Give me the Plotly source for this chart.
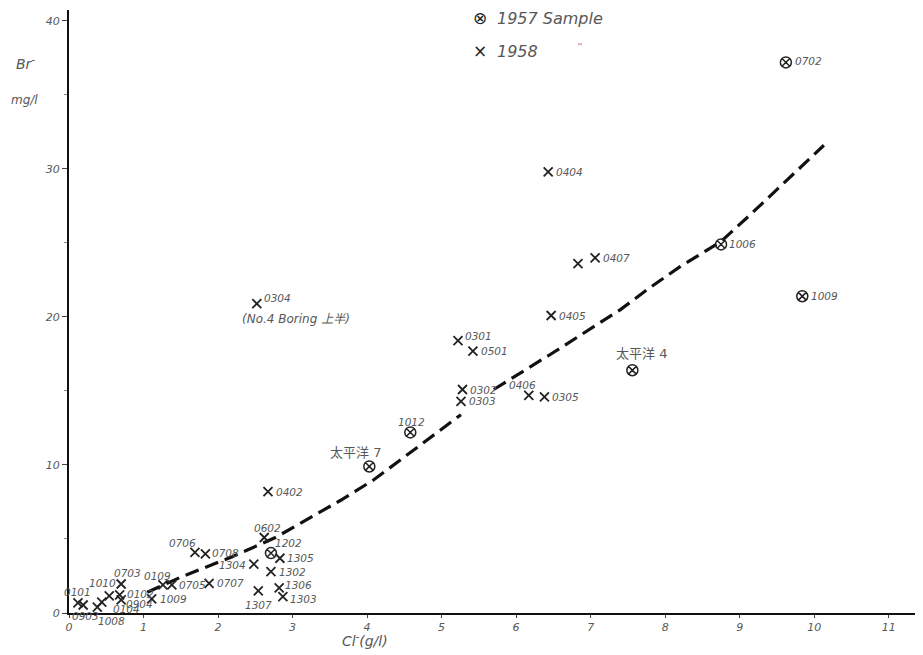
import plotly.graph_objects as go

# ---------------- data ----------------
labels57 = ["0702", "1006", "1009", "太平洋 4", "1012", "太平洋 7", "1202"]
cl57 = [9.62, 8.75, 9.84, 7.56, 4.58, 4.03, 2.71]
br57 = [37.2, 24.9, 21.4, 16.4, 12.2, 9.9, 4.05]

labels58 = ["0404", "0407", "", "0405", "0304", "0301", "0501", "0302", "0303",
            "0406", "0305", "0402", "0602", "1305", "1304", "1302", "1306", "1303",
            "1307", "0706", "0708", "0707", "0109", "0705", "1009", "0703", "0102",
            "0904", "1010", "0101", "0903", "0104", "1008"]
cl58 = [6.43, 7.06, 6.83, 6.47, 2.52, 5.22, 5.42, 5.28, 5.26,
        6.17, 6.38, 2.67, 2.62, 2.83, 2.48, 2.71, 2.82, 2.87,
        2.54, 1.69, 1.83, 1.88, 1.26, 1.38, 1.11, 0.70, 0.68,
        0.70, 0.54, 0.12, 0.19, 0.44, 0.38]
br58 = [29.8, 24.0, 23.6, 20.1, 20.9, 18.4, 17.7, 15.1, 14.3,
        14.7, 14.6, 8.2, 5.1, 3.7, 3.3, 2.8, 1.7, 1.1,
        1.5, 4.1, 4.0, 2.0, 1.9, 1.9, 0.95, 1.96, 1.22,
        0.88, 1.15, 0.68, 0.54, 0.74, 0.40]

# dashed trend curve (two drawn segments, broken near 0302)
curve_cl = [1.05, 1.49, 2.19, 2.77, 3.64, 4.09, 5.26, None,
            5.70, 6.50, 7.40, 7.80, 8.20, 8.75, 9.14, 10.13]
curve_br = [1.4, 2.4, 3.8, 5.1, 7.6, 9.0, 13.4, None,
            15.1, 17.6, 20.5, 22.0, 23.4, 25.1, 26.9, 31.6]

x_ticks = list(range(0, 12))
y_ticks = [0, 10, 20, 30, 40]

# ---------------- label styles: (x shift px, y shift px, anchor) ----------------
off57 = [(7, 1, "left"), (6, 0, "left"), (7, 0, "left"), (9, 17, "center"),
         (1, 10, "center"), (-14, 14, "center"), (2, 10, "left")]
off58 = [(6, 0, "left"), (6, 0, "left"), (0, 0, "left"), (6, 0, "left"), (5, 6, "left"),
         (5, 5, "left"), (6, 0, "left"), (6, 0, "left"), (6, 0, "left"),
         (-6, 10, "center"), (6, 0, "left"), (6, 0, "left"), (3, 10, "center"), (5, 0, "left"),
         (-6, -1, "right"), (6, 0, "left"), (4, 3, "left"), (5, -2, "left"),
         (0, -14, "center"), (-12, 9, "center"), (5, 1, "left"), (6, 0, "left"), (-5, 9, "center"),
         (5, 0, "left"), (6, 0, "left"), (6, 11, "center"), (5, 1, "left"),
         (3, -4, "left"), (-7, 13, "center"), (0, 11, "center"), (2, -11, "center"), (9, -7, "left"),
         (14, -14, "center")]

FONT = "DejaVu Sans, Noto Sans CJK JP, sans-serif"
INK = "#222222"
TXT = "#585858"

fig = go.Figure()

fig.add_trace(go.Scatter(
    x=curve_cl, y=curve_br, mode="lines",
    line=dict(color="#111111", width=3.2, dash="14px,7px"),
    showlegend=False, hoverinfo="skip"))

fig.add_trace(go.Scatter(
    x=cl57, y=br57, mode="markers", name="1957 Sample",
    marker=dict(symbol="circle-x-open", size=11, color=INK, line=dict(width=1.5)),
    cliponaxis=False, showlegend=False))

fig.add_trace(go.Scatter(
    x=cl58, y=br58, mode="markers", name="1958",
    marker=dict(symbol="x-thin-open", size=9, color=INK, line=dict(width=1.8, color=INK)),
    cliponaxis=False, showlegend=False))

def add_labels(xs, ys, labels, offs):
    for xv, yv, lab, (dx, dy, anc) in zip(xs, ys, labels, offs):
        if not lab:
            continue
        big = not lab[0].isdigit()
        fig.add_annotation(x=xv, y=yv, text=lab, showarrow=False,
                           xanchor=anc, yanchor="middle", xshift=dx, yshift=dy,
                           font=dict(family=FONT, size=13 if big else 10.5,
                                     color=TXT, style="normal" if big else "italic"))

add_labels(cl57, br57, labels57, off57)
add_labels(cl58, br58, labels58, off58)

# label for 0304
fig.add_annotation(x=cl58[labels58.index("0304")], y=br58[labels58.index("0304")],
                   text="(No.4 Boring 上半)", showarrow=False,
                   xanchor="left", yanchor="top", xshift=-17, yshift=-6,
                   font=dict(family=FONT, size=12, color=TXT, style="italic"))

# key (drawn as text so it can sit above the plot frame like the original)
def key(sym, sym_size, label, y):
    fig.add_annotation(xref="paper", yref="paper", x=0.481, y=y, text=sym,
                       xanchor="center", yanchor="middle", showarrow=False,
                       font=dict(family=FONT, size=sym_size, color=INK))
    fig.add_annotation(xref="paper", yref="paper", x=0.499, y=y, text=label,
                       xanchor="left", yanchor="middle", showarrow=False,
                       font=dict(family=FONT, size=16, color=TXT, style="italic"))

key("\u2297", 17, "1957 Sample", 0.986)
key("\u00d7", 17, "1958", 0.932)
fig.add_annotation(xref="paper", yref="paper", x=0.598, y=0.937, text="\u201d",
                   xanchor="center", yanchor="middle",
                   showarrow=False, font=dict(family=FONT, size=11, color="#999"))

# axis titles
fig.add_annotation(xref="paper", yref="paper", x=-0.064, y=0.912, xanchor="left", yanchor="middle",
                   text="Br<sup>-</sup>", showarrow=False,
                   font=dict(family=FONT, size=14, color=TXT, style="italic"))
fig.add_annotation(xref="paper", yref="paper", x=-0.070, y=0.851, xanchor="left", yanchor="middle",
                   text="mg/l", showarrow=False,
                   font=dict(family=FONT, size=12, color=TXT, style="italic"))
fig.add_annotation(xref="paper", yref="paper", x=0.347, y=-0.045, xanchor="center", yanchor="middle",
                   text="Cl<sup>-</sup>(g/l)", showarrow=False,
                   font=dict(family=FONT, size=14, color=TXT, style="italic"))

# the page body has an 8px margin: compensate so the plot sits where the reference's does
fig.update_layout(
    width=915, height=647,
    margin=dict(l=61, r=0, t=2, b=42),
    paper_bgcolor="white", plot_bgcolor="white",
    font=dict(family=FONT, color=TXT),
    showlegend=False,
    xaxis=dict(range=[0, 11.46], tickvals=x_ticks, ticktext=[str(v) for v in x_ticks],
               showgrid=False, zeroline=False, showline=True, linecolor="#111111", linewidth=2,
               ticks="outside", ticklen=3, tickcolor="#444", automargin=False,
               tickfont=dict(family=FONT, size=11, color=TXT, style="italic")),
    yaxis=dict(range=[0, 40.74], tickvals=y_ticks, ticktext=[str(v) for v in y_ticks],
               showgrid=False, zeroline=False, showline=True, linecolor="#111111", linewidth=2,
               ticks="outside", ticklen=5, tickcolor="#444", automargin=False,
               minor=dict(dtick=5, ticks="outside", ticklen=3, tickcolor="#888"),
               tickfont=dict(family=FONT, size=11, color=TXT, style="italic")),
)

fig.write_html("out.html")
